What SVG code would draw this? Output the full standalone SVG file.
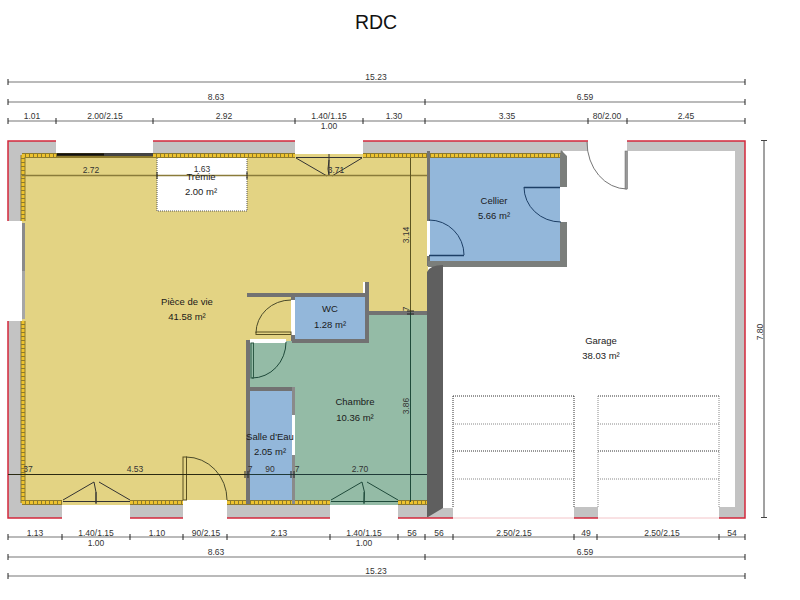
<svg xmlns="http://www.w3.org/2000/svg" width="800" height="600" viewBox="0 0 800 600">
<style>
text{font-family:"Liberation Sans",Arial,sans-serif;text-anchor:middle;fill:#1a1a1a}
.t{font-size:19.500px;fill:#111}
.r{font-size:9.500px}
.d{font-size:8.500px;fill:#333}
.dim{stroke:#777;stroke-width:1.2;fill:none}
.tick{stroke:#222;stroke-width:1;fill:none}
.in{stroke:#5c5420;stroke-width:1;fill:none}
.ing{stroke:#1f4a3a;stroke-width:1;fill:none}
.wall{fill:#c3c3c3}
.iw{fill:#727272}
.dk{fill:#7b7e7b}
.red{stroke:#d4293c;stroke-width:1.5;fill:none}
.pink{stroke:#f3c4c8;stroke-width:1;fill:none}
.hb{stroke:#8d7a2c;stroke-width:5;fill:none}
.h{stroke:#eec32f;stroke-width:3;stroke-dasharray:3 1;fill:none}
.op{fill:#fff}
.ar{fill:none;stroke:#4a4a2a;stroke-width:1}
.arb{fill:none;stroke:#1d3f66;stroke-width:1}
.leaf{fill:none;stroke:#333;stroke-width:1}
.gd{stroke:#333;stroke-width:1;stroke-dasharray:1 1;fill:none}
.gl{stroke:#888;stroke-width:1;stroke-dasharray:1 1;fill:none}
</style>
<rect width="800" height="600" fill="#fff"/>
<text class="t" x="376" y="29">RDC</text>

<g id="walls">
<rect class="wall" x="8" y="141" width="420" height="14"/>
<rect class="wall" x="428" y="141" width="135" height="14"/>
<rect class="wall" x="563" y="141" width="25" height="10"/>
<rect class="wall" x="627" y="141" width="118" height="10"/>
<rect class="wall" x="735" y="141" width="10" height="366"/>
<rect class="wall" x="8" y="141" width="14" height="377"/>
<rect class="wall" x="8" y="503" width="420" height="15"/>
<rect class="wall" x="428" y="508" width="25" height="10"/>
<rect class="wall" x="574" y="507" width="24" height="11"/>
<rect class="wall" x="719" y="507" width="26" height="11"/>
</g>

<g id="piece-de-vie">
<path d="M22 153H428V312H367V282H363V294H292V341H250V505H22Z" fill="#e3d383"/>
<text class="r" x="187" y="305">Pièce de vie</text>
<text class="r" x="187" y="320">41.58 m²</text>
</g>
<g id="tremie">
<rect x="157" y="157" width="90" height="54" fill="#fff" stroke="#555" stroke-dasharray="1 1"/>
</g>
<g id="chambre">
<path d="M250 341H367V314H428V505H292V388H250Z" fill="#94bba6"/>
<text class="r" x="355" y="405">Chambre</text>
<text class="r" x="355" y="421">10.36 m²</text>
</g>
<g id="salle-d-eau">
<rect x="248" y="390" width="44" height="114" fill="#93b7da"/>
</g>
<g id="wc">
<rect x="293" y="296" width="74" height="45" fill="#93b7da"/>
<text class="r" x="330" y="312">WC</text>
<text class="r" x="330" y="328">1.28 m²</text>
</g>
<g id="cellier">
<rect x="429" y="155" width="132" height="108" fill="#93b7da"/>
<text class="r" x="494" y="204">Cellier</text>
<text class="r" x="494" y="219">5.66 m²</text>
</g>

<g id="hatching">
<path class="hb" d="M22 155.500H295M363 155.500H561M23 155V221M23 321V503M22 502.500H62M130 502.500H183M227 502.500H330M398 502.500H428"/>
<path class="h" d="M22 155.500H56M153 155.500H295M363 155.500H561M23 155V221M23 321V503M22 502.500H62M130 502.500H183M227 502.500H330M398 502.500H428"/>
</g>

<g id="inner-walls">
<rect class="iw" x="247" y="293" width="120" height="4"/>
<rect class="iw" x="365" y="282" width="4" height="61"/>
<rect class="iw" x="292" y="339" width="77" height="4"/>
<rect class="iw" x="291" y="294" width="4" height="6"/>
<rect class="iw" x="291" y="335" width="4" height="6"/>
<rect class="iw" x="246" y="340" width="4" height="164"/>
<rect class="iw" x="246" y="387" width="49" height="4"/>
<rect x="292" y="387" width="3" height="28" fill="#8a8a8a"/>
<rect x="292" y="455" width="3" height="49" fill="#8a8a8a"/>
<rect class="iw" x="367" y="311" width="61" height="4"/>
<rect class="iw" x="427" y="151" width="3" height="70"/>
<rect class="iw" x="427" y="256" width="3" height="10"/>
<path class="dk" d="M561 150L567 156V187H560V155ZM560 222H567V267H428V261H560Z"/>
<path d="M427 272Q430 265 443 265V508L428 517H427Z" fill="#5f5f5f"/>
</g>

<g id="openings">
<rect class="op" x="56" y="140" width="97" height="13"/>
<rect class="op" x="295" y="140" width="68" height="14"/>
<rect class="op" x="588" y="140" width="39" height="12"/>
<rect class="op" x="7" y="221" width="15" height="100"/>
<rect class="op" x="62" y="505" width="68" height="14"/>
<rect class="op" x="183" y="500" width="44" height="19"/>
<rect class="op" x="330" y="505" width="68" height="14"/>
<rect class="op" x="427" y="221" width="3" height="35"/>
<rect class="op" x="291" y="300" width="4" height="35"/>
<rect class="op" x="250" y="339" width="36" height="4"/>
<rect class="op" x="292" y="415" width="3" height="40"/>
<rect class="op" x="560" y="187" width="8" height="35"/>
</g>

<g id="doors-windows">
<path d="M57 154.500H104" stroke="#111" stroke-width="2.500" fill="none"/>
<path d="M104 154.500H153" stroke="#444" stroke-width="3" fill="none"/>
<rect x="22" y="223" width="3" height="48" fill="#8a8a8a"/>
<rect x="22" y="271" width="3" height="48" fill="#a6a6a6"/>
<path class="leaf" d="M296 157.500H362M329 154V176M296 158L327 176M362 158L332 176"/>
<path class="leaf" d="M329 176Q327 170 329 160"/>
<path class="leaf" d="M63 501.500H130M96 492V504M63 500L94 482M130 500L99 482M94 482Q97 492 96 503"/>
<path class="ing" d="M331 501.500H398M364 492V504M331 500L362 482M398 500L367 482M362 482Q366 492 364 503"/>
<rect x="183" y="457" width="3.500" height="43" fill="none" stroke="#5a5020"/>
<path class="ar" d="M186 457A41 43 0 0 1 227 500"/>
<path class="arb" d="M429 220A35 35 0 0 1 464 255"/>
<path d="M429 255.500H464" stroke="#1d3f66" stroke-width="1.500" fill="none"/>
<path class="arb" d="M524 187A37 35 0 0 0 561 222"/>
<path d="M524 187.500H560" stroke="#1d3f66" stroke-width="1.500" fill="none"/>
<path d="M587 142A40 47 0 0 0 627 189" fill="none" stroke="#777"/>
<rect x="625" y="151" width="2.500" height="38" fill="#999" stroke="#666" stroke-width=".5"/>
<path class="ar" d="M291 300A35 33 0 0 0 256 333"/>
<rect x="256" y="332" width="35" height="2.500" fill="none" stroke="#5a5020"/>
<path class="ing" d="M286 342A34 36 0 0 1 252 378"/>
<rect x="251" y="343" width="2.500" height="35" fill="none" stroke="#2c5a45"/>
</g>

<g id="garage-doors">
<path class="gd" d="M453 396H574M453 451H574M598 396H719M598 451H719M453 396V507M574 396V507"/>
<path class="gl" d="M453 424H574M453 479H574M598 424H719M598 479H719M598 396V507M719 396V507"/>
</g>

<g id="outline">
<path class="red" d="M56 141H8V221M8 321V518H62M153 141H295M363 141H588M627 141H745V518H719M130 518H183M227 518H330M398 518H453M574 518H598"/>
<path class="pink" d="M453 518H574M598 518H719"/>
</g>

<g id="connectors">
<path class="dim" d="M8 82H745M8 102H745M8 121H745M8 537H745M8 557H745M8 576H745"/>
<path class="tick" d="M8 79V85M745 79V85M8 99V105M425 99V105M745 99V105M8 118V124M56 118V124M153 118V124M295 118V124M363 118V124M425 118V124M588 118V124M627 118V124M745 118V124"/>
<path class="tick" d="M8 534V540M62 534V540M130 534V540M183 534V540M227 534V540M330 534V540M398 534V540M425 534V540M453 534V540M574 534V540M597 534V540M719 534V540M745 534V540M8 554V560M425 554V560M745 554V560M8 573V579M745 573V579"/>
<path d="M764 141V518M761 140.500H767M761 517.500H767" stroke="#444" fill="none"/>
<path d="M22 175.500H427" style="stroke:#8a7b3a;stroke-width:1.500;fill:none"/>
<path class="tick" d="M157 172V179M247 172V179"/>
<path class="in" d="M410.500 158V312"/>
<path class="ing" d="M410.500 312V502"/>
<path class="tick" d="M407 311H414M407 314H414"/>
<path d="M8 474.500H247" stroke="#2b2a12" fill="none"/>
<path d="M247 474.500H427" stroke="#1f3a38" fill="none"/>
<path class="tick" d="M245 471V478M248 471V478M291 471V478M294 471V478"/>
</g>

<g id="labels">
<text class="d" x="376" y="80">15.23</text>
<text class="d" x="216" y="100">8.63</text>
<text class="d" x="585" y="100">6.59</text>
<text class="d" x="32" y="119">1.01</text>
<text class="d" x="105" y="119">2.00/2.15</text>
<text class="d" x="224" y="119">2.92</text>
<text class="d" x="329" y="119">1.40/1.15</text>
<text class="d" x="329" y="129">1.00</text>
<text class="d" x="394" y="119">1.30</text>
<text class="d" x="507" y="119">3.35</text>
<text class="d" x="607" y="119">80/2.00</text>
<text class="d" x="686" y="119">2.45</text>
<text class="d" x="91" y="173">2.72</text>
<text class="d" x="202" y="172">1.63</text>
<text class="r" x="201" y="180">Trémie</text>
<text class="r" x="201" y="195">2.00 m²</text>
<text class="d" x="336" y="173">3.71</text>
<text class="d" transform="translate(409 235) rotate(-90)">3.14</text>
<text class="d" transform="translate(409 406) rotate(-90)">3.86</text>
<text class="d" transform="translate(409 309) rotate(-90)">7</text>
<text class="d" transform="translate(763 332) rotate(-90)">7.80</text>
<text class="d" x="28" y="472">37</text>
<text class="d" x="135" y="472">4.53</text>
<text class="d" x="250" y="472">7</text>
<text class="d" x="270" y="472">90</text>
<text class="d" x="297" y="472">7</text>
<text class="d" x="360" y="472">2.70</text>
<text class="r" x="270" y="440">Salle d'Eau</text>
<text class="r" x="270" y="455">2.05 m²</text>
<text class="r" x="601" y="344">Garage</text>
<text class="r" x="601" y="359">38.03 m²</text>
<text class="d" x="35" y="536">1.13</text>
<text class="d" x="96" y="536">1.40/1.15</text>
<text class="d" x="96" y="546">1.00</text>
<text class="d" x="157" y="536">1.10</text>
<text class="d" x="206" y="536">90/2.15</text>
<text class="d" x="279" y="536">2.13</text>
<text class="d" x="364" y="536">1.40/1.15</text>
<text class="d" x="364" y="546">1.00</text>
<text class="d" x="412" y="536">56</text>
<text class="d" x="439" y="536">56</text>
<text class="d" x="514" y="536">2.50/2.15</text>
<text class="d" x="586" y="536">49</text>
<text class="d" x="662" y="536">2.50/2.15</text>
<text class="d" x="732" y="536">54</text>
<text class="d" x="216" y="555">8.63</text>
<text class="d" x="585" y="555">6.59</text>
<text class="d" x="376" y="574">15.23</text>
</g>
</svg>
